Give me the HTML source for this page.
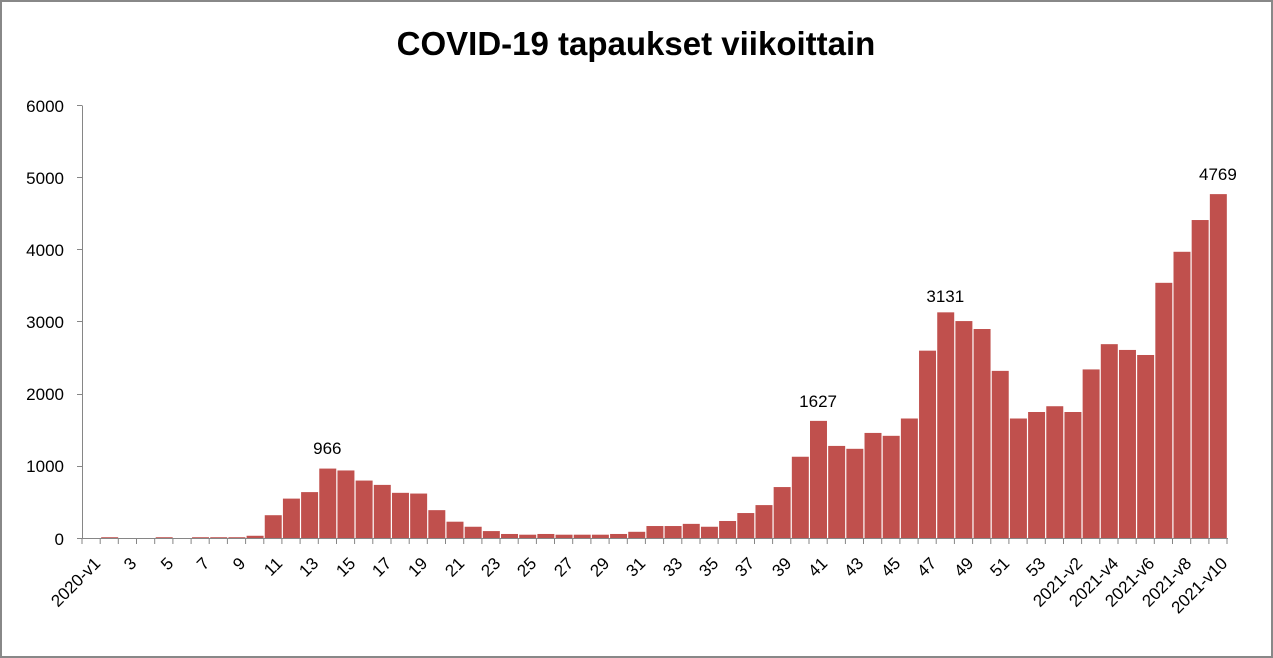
<!DOCTYPE html>
<html><head><meta charset="utf-8"><style>
html,body{margin:0;padding:0;background:#fff}
svg{display:block}
text{font-family:"Liberation Sans",sans-serif;fill:#000}
</style></head><body>
<svg width="1273" height="658" viewBox="0 0 1273 658" xmlns="http://www.w3.org/2000/svg">
<rect x="1" y="1" width="1271" height="656" fill="#fff" stroke="#888" stroke-width="2"/>
<text x="636" y="55" text-anchor="middle" font-size="33" font-weight="bold">COVID-19 tapaukset viikoittain</text>
<g font-size="17" text-anchor="end">
<text x="64" y="112">6000</text>
<text x="64" y="184">5000</text>
<text x="64" y="256">4000</text>
<text x="64" y="328">3000</text>
<text x="64" y="400">2000</text>
<text x="64" y="472">1000</text>
<text x="64" y="545">0</text>
</g>
<g id="bars" fill="#c0504d"></g>
<g stroke="#868686" stroke-width="1" id="axes">
<line x1="82.5" y1="105.5" x2="82.5" y2="538.5"/>
<line x1="82" y1="538.5" x2="1228" y2="538.5"/>
<line x1="77" y1="105.5" x2="82" y2="105.5"/>
<line x1="77" y1="177.5" x2="82" y2="177.5"/>
<line x1="77" y1="249.5" x2="82" y2="249.5"/>
<line x1="77" y1="321.5" x2="82" y2="321.5"/>
<line x1="77" y1="394.5" x2="82" y2="394.5"/>
<line x1="77" y1="466.5" x2="82" y2="466.5"/>
<line x1="77" y1="538.5" x2="82" y2="538.5"/>
</g>
<g font-size="17" text-anchor="middle">
<text x="327.3" y="454">966</text>
<text x="818.1" y="407">1627</text>
<text x="945.3" y="302">3131</text>
<text x="1217.9" y="180">4769</text>
</g>
<g font-size="17" text-anchor="end">
<text transform="translate(93,556) rotate(-45)" dy="0.7em">2020-v1</text>
<text transform="translate(129,556) rotate(-45)" dy="0.7em">3</text>
<text transform="translate(166,556) rotate(-45)" dy="0.7em">5</text>
<text transform="translate(202,556) rotate(-45)" dy="0.7em">7</text>
<text transform="translate(238,556) rotate(-45)" dy="0.7em">9</text>
<text transform="translate(275,556) rotate(-45)" dy="0.7em">11</text>
<text transform="translate(311,556) rotate(-45)" dy="0.7em">13</text>
<text transform="translate(348,556) rotate(-45)" dy="0.7em">15</text>
<text transform="translate(384,556) rotate(-45)" dy="0.7em">17</text>
<text transform="translate(420,556) rotate(-45)" dy="0.7em">19</text>
<text transform="translate(457,556) rotate(-45)" dy="0.7em">21</text>
<text transform="translate(493,556) rotate(-45)" dy="0.7em">23</text>
<text transform="translate(529,556) rotate(-45)" dy="0.7em">25</text>
<text transform="translate(566,556) rotate(-45)" dy="0.7em">27</text>
<text transform="translate(602,556) rotate(-45)" dy="0.7em">29</text>
<text transform="translate(638,556) rotate(-45)" dy="0.7em">31</text>
<text transform="translate(675,556) rotate(-45)" dy="0.7em">33</text>
<text transform="translate(711,556) rotate(-45)" dy="0.7em">35</text>
<text transform="translate(747,556) rotate(-45)" dy="0.7em">37</text>
<text transform="translate(784,556) rotate(-45)" dy="0.7em">39</text>
<text transform="translate(820,556) rotate(-45)" dy="0.7em">41</text>
<text transform="translate(856,556) rotate(-45)" dy="0.7em">43</text>
<text transform="translate(893,556) rotate(-45)" dy="0.7em">45</text>
<text transform="translate(929,556) rotate(-45)" dy="0.7em">47</text>
<text transform="translate(966,556) rotate(-45)" dy="0.7em">49</text>
<text transform="translate(1002,556) rotate(-45)" dy="0.7em">51</text>
<text transform="translate(1038,556) rotate(-45)" dy="0.7em">53</text>
<text transform="translate(1075,556) rotate(-45)" dy="0.7em">2021-v2</text>
<text transform="translate(1111,556) rotate(-45)" dy="0.7em">2021-v4</text>
<text transform="translate(1147,556) rotate(-45)" dy="0.7em">2021-v6</text>
<text transform="translate(1184,556) rotate(-45)" dy="0.7em">2021-v8</text>
<text transform="translate(1220,556) rotate(-45)" dy="0.7em">2021-v10</text>
</g>
</svg>
<script>
var v=[0,15,0,0,15,0,15,15,15,35,320,550,640,966,940,800,740,630,620,390,230,160,100,60,50,60,50,50,50,60,90,170,170,200,160,240,350,460,710,1130,1627,1280,1240,1460,1420,1660,2600,3131,3010,2900,2320,1660,1750,1830,1750,2340,2690,2610,2540,3540,3970,4410,4769];
var g=document.getElementById('bars'),w=18.175,s='';
for(var i=0;i<v.length;i++){var h=v[i]*0.07217;if(h<=0)continue;var x=82+w*i+1;s+='<rect x="'+x.toFixed(2)+'" y="'+(538.3-h).toFixed(2)+'" width="'+(w-1.2).toFixed(2)+'" height="'+h.toFixed(2)+'"/>';}
var a=document.getElementById('axes');
for(var i=0;i<=63;i++){var x=(82+w*i).toFixed(1);a.innerHTML+='<line x1="'+x+'" y1="538" x2="'+x+'" y2="544"/>';}
g.innerHTML=s;
</script>
</body></html>
